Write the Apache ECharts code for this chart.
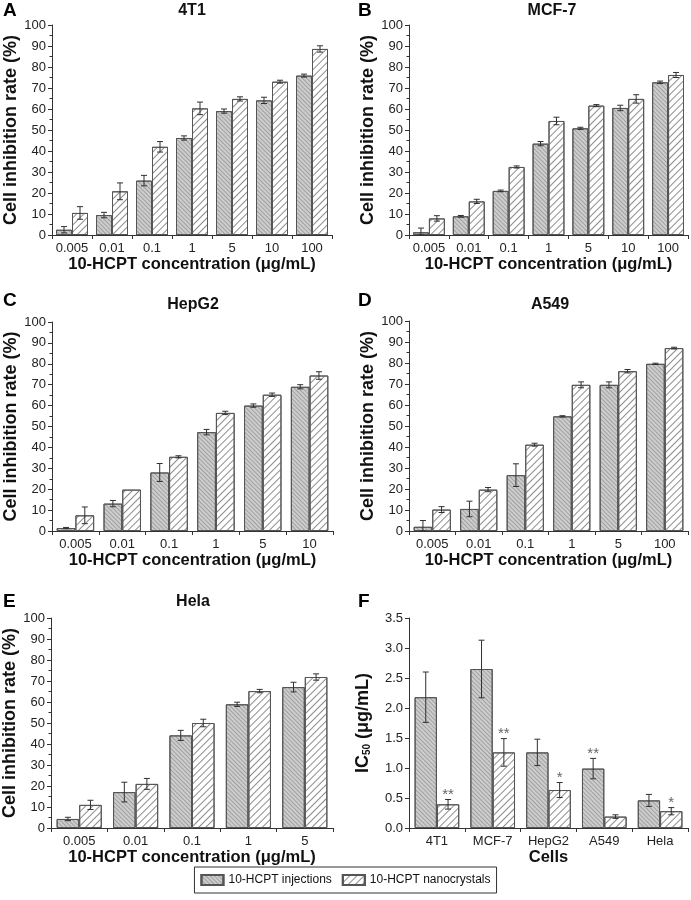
<!DOCTYPE html>
<html>
<head>
<meta charset="utf-8">
<script src="https://cdn.jsdelivr.net/npm/echarts@6/dist/echarts.min.js"></script>
<style>
html,body{margin:0;padding:0;background:#fff;}
#chart{width:691px;height:900px;}
</style>
</head>
<body>
<div id="chart"></div>
<script>
// ---------------- DATA ----------------
const catsA = ['0.005','0.01','0.1','1','5','10','100'];
const injA = [2.5, 9.5, 25.9, 46.2, 59.0, 64.1, 75.9];
const injErrA = [1.5, 1.3, 2.5, 1.0, 1.0, 1.5, 0.7];
const nanoA = [10.5, 20.8, 42.0, 60.3, 64.8, 73.0, 88.6];
const nanoErrA = [3.0, 4.0, 2.5, 3.0, 1.0, 0.7, 1.5];

const catsB = ['0.005','0.01','0.1','1','5','10','100'];
const injB = [1.3, 8.9, 21.0, 43.5, 50.8, 60.5, 72.7];
const injErrB = [2.0, 0.4, 0.4, 1.0, 0.5, 1.3, 0.6];
const nanoB = [7.9, 16.0, 32.4, 54.3, 61.6, 64.8, 76.2];
const nanoErrB = [1.3, 1.0, 0.5, 1.8, 0.5, 2.0, 1.2];

const catsC = ['0.005','0.01','0.1','1','5','10'];
const injC = [1.4, 13.1, 28.0, 47.3, 60.0, 69.0];
const injErrC = [0.3, 1.5, 4.3, 1.3, 0.8, 1.0];
const nanoC = [7.5, 19.8, 35.5, 56.5, 65.2, 74.4];
const nanoErrC = [4.0, 0, 0.5, 0.8, 0.8, 1.8];

const catsD = ['0.005','0.01','0.1','1','5','100'];
const injD = [2.0, 10.5, 26.6, 54.6, 69.6, 79.6];
const injErrD = [3.0, 3.7, 5.4, 0.3, 1.4, 0.3];
const nanoD = [10.2, 19.7, 41.1, 69.6, 76.1, 87.1];
const nanoErrD = [1.4, 1.0, 0.7, 1.4, 0.8, 0.4];

const catsE = ['0.005','0.01','0.1','1','5'];
const injE = [4.3, 17.1, 44.1, 58.9, 67.1];
const injErrE = [0.8, 4.7, 2.4, 1.0, 2.3];
const nanoE = [11.0, 21.0, 50.0, 65.2, 71.9];
const nanoErrE = [2.2, 2.6, 1.8, 0.8, 1.5];

const catsF = ['4T1','MCF-7','HepG2','A549','Hela'];
const injF = [2.18, 2.65, 1.26, 0.99, 0.46];
const injErrF = [0.42, 0.48, 0.22, 0.17, 0.10];
const nanoF = [0.395, 1.26, 0.633, 0.19, 0.28];
const nanoErrF = [0.08, 0.23, 0.125, 0.03, 0.06];
const starsInjF = ['', '', '', '**', ''];
const starsNanoF = ['**', '**', '*', '', '*'];

const titles = ['4T1','MCF-7','HepG2','A549','Hela'];
const letters = ['A','B','C','D','E','F'];
const seriesNames = ['10-HCPT injections','10-HCPT nanocrystals'];
const xName = '10-HCPT concentration (μg/mL)';
const yName = 'Cell inhibition rate (%)';

// ---------------- LAYOUT ----------------
const FONT = '"Liberation Sans", Arial, Helvetica, sans-serif';
const AX = '#333';
const grids = [
  {left: 52, top: 25, width: 280, height: 210},
  {left: 409, top: 25, width: 279, height: 210},
  {left: 52, top: 322, width: 281, height: 209},
  {left: 409, top: 321, width: 279, height: 210},
  {left: 51, top: 618, width: 282, height: 210},
  {left: 409, top: 618, width: 279, height: 210}
];
const panels = [
  {cats: catsA, inj: injA, injErr: injErrA, nano: nanoA, nanoErr: nanoErrA},
  {cats: catsB, inj: injB, injErr: injErrB, nano: nanoB, nanoErr: nanoErrB},
  {cats: catsC, inj: injC, injErr: injErrC, nano: nanoC, nanoErr: nanoErrC},
  {cats: catsD, inj: injD, injErr: injErrD, nano: nanoD, nanoErr: nanoErrD},
  {cats: catsE, inj: injE, injErr: injErrE, nano: nanoE, nanoErr: nanoErrE},
  {cats: catsF, inj: injF, injErr: injErrF, nano: nanoF, nanoErr: nanoErrF,
   starsInj: starsInjF, starsNano: starsNanoF}
];

const injStyle = {
  color: '#cdcdcd', borderColor: '#555', borderWidth: 1,
  decal: {symbol: 'rect', symbolSize: 1, dashArrayX: [1, 0], dashArrayY: [1, 1.5],
          rotation: Math.PI / 4, color: 'rgba(90,90,90,0.38)'}
};
const nanoStyle = {
  color: '#ffffff', borderColor: '#555', borderWidth: 1,
  decal: {symbol: 'rect', symbolSize: 1, dashArrayX: [1, 0], dashArrayY: [1, 3.2],
          rotation: -Math.PI / 4, color: 'rgba(120,120,120,0.85)'}
};

function errRender(sign, stars) {
  return function (params, api) {
    const idx = api.value(0), v = api.value(1), e = api.value(2);
    const band = api.size([1, 0])[0];
    const x = api.coord([idx, v])[0] + sign * band * 0.2;
    const yTop = api.coord([idx, v + e])[1];
    const yBot = api.coord([idx, Math.max(v - e, 0)])[1];
    const st = {stroke: '#303030', lineWidth: 1};
    const c = 3;
    const children = [];
    if (e > 0) {
      children.push({type: 'line', shape: {x1: x, y1: yTop, x2: x, y2: yBot}, style: st});
      children.push({type: 'line', shape: {x1: x - c, y1: yTop, x2: x + c, y2: yTop}, style: st});
      children.push({type: 'line', shape: {x1: x - c, y1: yBot, x2: x + c, y2: yBot}, style: st});
    }
    const s = stars ? stars[params.dataIndex] : '';
    if (s) {
      children.push({type: 'text', x: x, y: yTop + 3,
        style: {text: s, fill: '#666', font: '15px ' + FONT, align: 'center', verticalAlign: 'bottom'}});
    }
    return {type: 'group', children: children};
  };
}

const option = {
  animation: false,
  backgroundColor: '#fff',
  textStyle: {fontFamily: FONT},
  title: [],
  grid: grids.map(g => Object.assign({containLabel: false}, g)),
  xAxis: [],
  yAxis: [],
  series: [],
  legend: {
    data: seriesNames,
    left: 'center', top: 867,
    itemWidth: 22, itemHeight: 10, itemGap: 10,
    icon: 'rect',
    borderColor: '#333', borderWidth: 1, borderRadius: 0,
    padding: [7, 6],
    textStyle: {fontSize: 12, color: '#111', fontFamily: FONT}
  }
};

// titles
const titlePos = [[192, 3], [552, 3], [193, 297], [550, 297], [193, 594]];
titles.forEach((t, i) => {
  option.title.push({text: t, left: titlePos[i][0], top: titlePos[i][1], textAlign: 'center', padding: 0,
    textStyle: {fontSize: 16, fontWeight: 'bold', color: '#111', fontFamily: FONT}});
});
const letterPos = [[3, 1], [358, 1], [3, 291], [358, 291], [3, 592], [358, 592]];
letters.forEach((t, i) => {
  option.title.push({text: t, left: letterPos[i][0], top: letterPos[i][1], padding: 0,
    textStyle: {fontSize: 19, fontWeight: 'bold', color: '#000', fontFamily: FONT}});
});

panels.forEach((p, i) => {
  const isF = i === 5;
  option.xAxis.push({
    type: 'category', gridIndex: i, data: p.cats,
    name: isF ? 'Cells' : xName, nameLocation: 'middle', nameGap: 20,
    nameTextStyle: {fontSize: 16.5, fontWeight: 'bold', color: '#111', fontFamily: FONT},
    axisLine: {lineStyle: {color: AX, width: 1}},
    axisTick: {show: true, length: 4, lineStyle: {color: AX}},
    axisLabel: {fontSize: 13, color: '#222', margin: 7, interval: 0, fontFamily: FONT}
  });
  option.yAxis.push({
    type: 'value', gridIndex: i,
    min: 0, max: isF ? 3.5 : 100, interval: isF ? 0.5 : 10,
    name: isF ? 'IC{sub|50} (μg/mL)' : yName, nameLocation: 'middle', nameGap: isF ? 37 : 29,
    nameTextStyle: {fontSize: 18, fontWeight: 'bold', color: '#111', fontFamily: FONT,
      rich: {sub: {fontSize: 10, fontWeight: 'bold', color: '#111', verticalAlign: 'bottom', padding: [6, 0, 0, 0]}}},
    axisLine: {show: true, lineStyle: {color: AX, width: 1}},
    axisTick: {show: true, length: 4, lineStyle: {color: AX}},
    minorTick: {show: !isF, splitNumber: 2, length: 2.5, lineStyle: {color: AX}},
    splitLine: {show: false},
    axisLabel: {fontSize: 13, color: '#222', margin: 6, fontFamily: FONT,
      formatter: isF ? (v => v.toFixed(1)) : (v => String(v))}
  });
  option.series.push({
    type: 'bar', name: seriesNames[0], xAxisIndex: i, yAxisIndex: i,
    data: p.inj, barGap: '0%', barCategoryGap: '20%', itemStyle: injStyle, silent: true
  });
  option.series.push({
    type: 'bar', name: seriesNames[1], xAxisIndex: i, yAxisIndex: i,
    data: p.nano, barGap: '0%', barCategoryGap: '20%', itemStyle: nanoStyle, silent: true
  });
  option.series.push({
    type: 'custom', xAxisIndex: i, yAxisIndex: i, z: 5, silent: true,
    encode: {x: 0, y: 1},
    renderItem: errRender(-1, p.starsInj),
    data: p.inj.map((v, k) => [k, v, p.injErr[k]])
  });
  option.series.push({
    type: 'custom', xAxisIndex: i, yAxisIndex: i, z: 5, silent: true,
    encode: {x: 0, y: 1},
    renderItem: errRender(1, p.starsNano),
    data: p.nano.map((v, k) => [k, v, p.nanoErr[k]])
  });
});

const chart = echarts.init(document.getElementById('chart'), null, {renderer: 'canvas'});
chart.setOption(option);
</script>
</body>
</html>
